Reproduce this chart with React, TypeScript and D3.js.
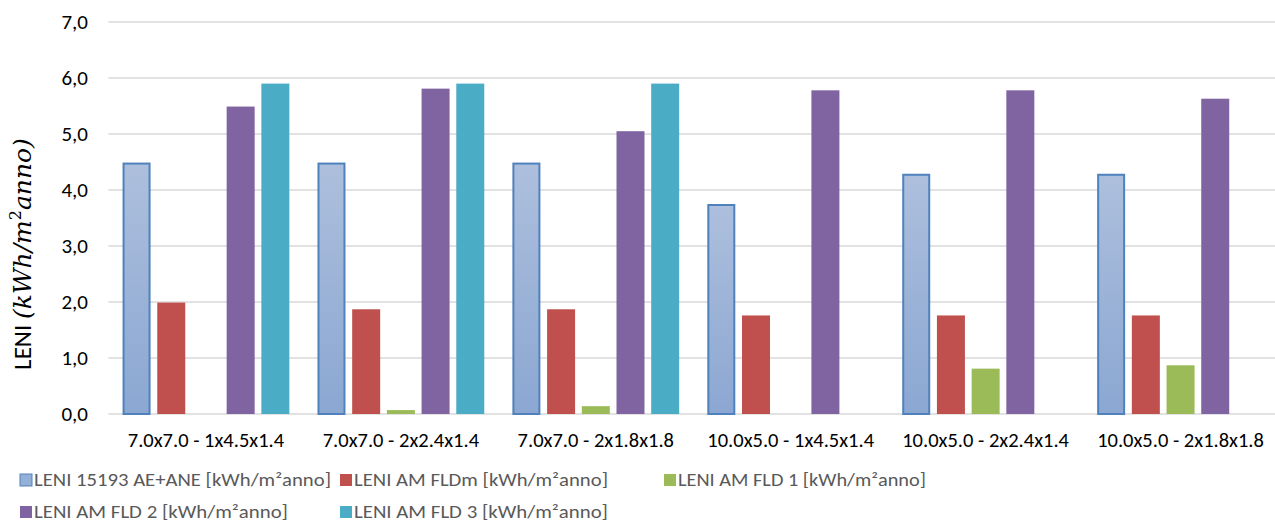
import React from "react";
import * as d3 from "d3";

const categories = [
  "7.0x7.0 - 1x4.5x1.4",
  "7.0x7.0 - 2x2.4x1.4",
  "7.0x7.0 - 2x1.8x1.8",
  "10.0x5.0 - 1x4.5x1.4",
  "10.0x5.0 - 2x2.4x1.4",
  "10.0x5.0 - 2x1.8x1.8",
];
const seriesNames = [
  "LENI 15193 AE+ANE [kWh/m²anno]",
  "LENI AM FLDm [kWh/m²anno]",
  "LENI AM FLD 1 [kWh/m²anno]",
  "LENI AM FLD 2 [kWh/m²anno]",
  "LENI AM FLD 3 [kWh/m²anno]",
];
const leniAE = [4.49, 4.49, 4.49, 3.75, 4.29, 4.29];
const fldM = [1.99, 1.87, 1.87, 1.76, 1.76, 1.76];
const fld1 = [0, 0.07, 0.14, 0, 0.81, 0.87];
const fld2 = [5.49, 5.81, 5.05, 5.78, 5.78, 5.63];
const fld3 = [5.9, 5.9, 5.9, 0, 0, 0];
const yTicks = [0, 1, 2, 3, 4, 5, 6, 7];

const seriesValues = [leniAE, fldM, fld1, fld2, fld3];
const colors = ["url(#blueGrad)", "#c0504d", "#9bbb59", "#8064a2", "#4bacc6"];
const legendColors = ["#95b0d8", "#c0504d", "#9bbb59", "#8064a2", "#4bacc6"];

const W = 1275;
const H = 523;
const left = 108.5;
const right = 1278;
const top = 22;
const bottom = 414;

export default function App() {
  const x = d3.scaleBand<string>().domain(categories).range([left, right]).paddingInner(0).paddingOuter(0);
  const bandW = x.bandwidth();
  const barW = 28;
  const step = 34.7;
  const groupW = 4 * step + barW;
  const y = d3.scaleLinear().domain([0, 7]).range([bottom, top]);
  const fmt = (v: number) => d3.format(".1f")(v).replace(".", ",");
  const font = "Carlito, Lato, 'Open Sans', sans-serif";
  const serif = "'DejaVu Serif', 'Liberation Serif', serif";

  const legendItems = [
    { i: 0, x: 20, y: 480, len: 297 },
    { i: 1, x: 340, y: 480, len: 254 },
    { i: 2, x: 664, y: 480, len: 248 },
    { i: 3, x: 20, y: 512, len: 254 },
    { i: 4, x: 340, y: 512, len: 254 },
  ];

  return (
    <svg width={W} height={H} style={{ position: "absolute", left: 0, top: 0, background: "#fff" }}>
      <defs>
        <linearGradient id="blueGrad" x1="0" y1="0" x2="0" y2="1">
          <stop offset="0%" stopColor="#adbfdd" />
          <stop offset="100%" stopColor="#8ba7d2" />
        </linearGradient>
      </defs>
      {yTicks.map((t) => (
        <g key={t}>
          <line x1={left} x2={W} y1={y(t)} y2={y(t)} stroke="#d9d9d9" strokeWidth={1.5} />
          <text x={88} y={y(t)} dy="0.35em" textAnchor="end" fontFamily={font} fontSize={21} fill="#000">
            {fmt(t)}
          </text>
        </g>
      ))}
      {categories.map((c, ci) => {
        const gx = (x(c) as number) + (bandW - groupW) / 2;
        return (
          <g key={c}>
            {seriesValues.map((vals, si) => {
              const v = vals[ci];
              if (v <= 0) return null;
              const bx = gx + si * step;
              const by = y(v);
              const h = y(0) - by;
              if (si === 0) {
                return (
                  <rect key={si} x={bx + 1} y={by + 1} width={barW - 2} height={h - 1}
                    fill={colors[si]} stroke="#4f81bd" strokeWidth={2} />
                );
              }
              return <rect key={si} x={bx} y={by} width={barW} height={h} fill={colors[si]} />;
            })}
            <text x={(x(c) as number) + bandW / 2} y={447} textAnchor="middle" fontFamily={font} fontSize={20.5} fill="#000">
              {c}
            </text>
          </g>
        );
      })}
      <g transform={`translate(31, 254) rotate(-90)`}>
        <text textAnchor="middle" fontSize={25} fill="#000">
          <tspan fontFamily={font}>LENI </tspan>
          <tspan fontFamily={serif} fontStyle="italic">(kWh/m</tspan>
          <tspan fontFamily={serif} fontSize={16} dy={-10}>2</tspan>
          <tspan fontFamily={serif} fontStyle="italic" dy={10}>anno)</tspan>
        </text>
      </g>
      {legendItems.map((it) => (
        <g key={it.i}>
          <rect x={it.x} y={it.y - 6} width={12} height={12} fill={legendColors[it.i]}
            stroke={it.i === 0 ? "#4f81bd" : "none"} strokeWidth={1} />
          <text x={it.x + 14} y={it.y} dy="0.35em" fontFamily={font} fontSize={18} fill="#595959"
            textLength={it.len} lengthAdjust="spacingAndGlyphs">
            {seriesNames[it.i]}
          </text>
        </g>
      ))}
    </svg>
  );
}
